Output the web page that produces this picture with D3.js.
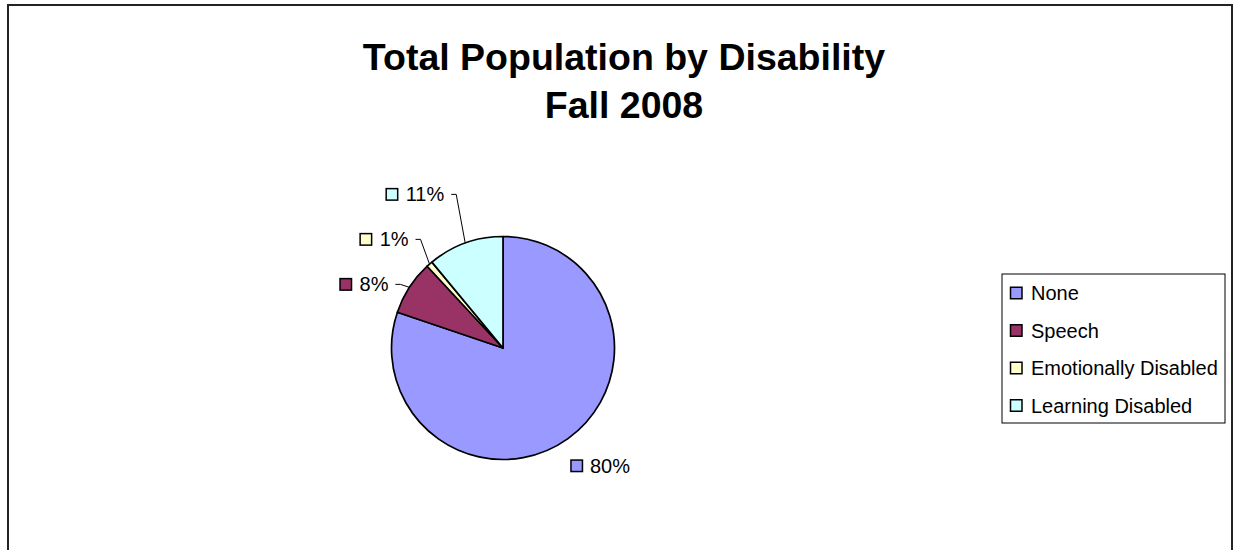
<!DOCTYPE html>
<html>
<head>
<meta charset="utf-8">
<script src="https://cdn.jsdelivr.net/npm/d3@7"></script>
<style>
    body { margin: 0; background: #fff; }
    svg { display: block; font-family: "Liberation Sans", Arial, sans-serif; }
</style>
</head>
<body>
<div id="chart"></div>
<script>
    // data
    var categories = ["None", "Speech", "Emotionally Disabled", "Learning Disabled"];
    var shares = [80.2, 7.9, 0.9, 11.0];
    var pctLabels = ["80%", "8%", "1%", "11%"];
    var colours = ["#9999FF", "#993366", "#FFFFCC", "#CCFFFF"];
    var titleLines = ["Total Population by Disability", "Fall 2008"];

    var width = 1235;
    var height = 550;

    var cx = 503, cy = 348, radius = 111.5;

    var svg = d3.select("#chart")
        .append("svg")
        .attr("width", width)
        .attr("height", height);

    // outer chart frame (bottom edge is outside the picture)
    svg.append("rect")
        .attr("x", 8)
        .attr("y", 5)
        .attr("width", 1224)
        .attr("height", 600)
        .attr("fill", "#fff")
        .attr("stroke", "#222")
        .attr("stroke-width", 2);

    var title = svg.append("text")
        .attr("text-anchor", "middle")
        .attr("font-weight", "bold")
        .attr("font-size", "37.5px")
        .attr("fill", "#000");

    title.selectAll("tspan")
        .data(titleLines)
        .enter()
        .append("tspan")
        .attr("x", 624)
        .attr("y", function(d, j) { return 70 + j * 48; })
        .text(function(d) { return d; });

    var data = categories.map(function(c, j) {
        return { key: c, value: shares[j], label: pctLabels[j], colour: colours[j] };
    });

    var pie = d3.pie()
        .sort(null)
        .value(function(d) { return d.value; });

    var arc = d3.arc()
        .innerRadius(0)
        .outerRadius(radius);

    var arcs = pie(data);

    var g = svg.append("g")
        .attr("transform", "translate(" + cx + "," + cy + ")");

    g.selectAll("path.slice")
        .data(arcs)
        .enter()
        .append("path")
        .attr("class", "slice")
        .attr("d", arc)
        .attr("fill", function(d) { return d.data.colour; })
        .attr("stroke", "#000")
        .attr("stroke-width", 1.7)
        .attr("stroke-linejoin", "round");

    function midAngle(d) {
        return d.startAngle + (d.endAngle - d.startAngle) / 2;
    }

    function edgePoint(d, r) {
        var a = midAngle(d);
        return [r * Math.sin(a), -r * Math.cos(a)];
    }

    // labels: right side sit just off the edge, left side stacked upwards with leader lines
    var labelSize = 20;
    var box = 11.5;
    var gap = 45;
    var prevY = Infinity;

    var leftArcs = arcs.filter(function(d) { return midAngle(d) > Math.PI; });
    var rightArcs = arcs.filter(function(d) { return midAngle(d) <= Math.PI; });

    rightArcs.forEach(function(d) {
        var p = edgePoint(d, radius * 1.3);
        var lg = g.append("g")
            .attr("transform", "translate(" + (p[0] - 17) + "," + p[1] + ")");
        lg.append("rect")
            .attr("x", 0.5).attr("y", -box / 2)
            .attr("width", box).attr("height", box)
            .attr("fill", d.data.colour)
            .attr("stroke", "#000").attr("stroke-width", 1.5);
        lg.append("text")
            .attr("x", box + 8)
            .attr("dy", "0.35em")
            .attr("font-size", labelSize + "px")
            .text(d.data.label);
    });

    // from the lowest left label upward
    leftArcs.sort(function(a, b) { return midAngle(a) - midAngle(b); })
        .forEach(function(d) {
            var e = edgePoint(d, radius);
            var y = Math.min(e[1] - 3, prevY - gap);
            prevY = y;
            var textEnd = e[0] - 21;

            g.append("path")
                .attr("d", "M" + (textEnd + 7) + "," + y + "H" + (textEnd + 12) + "L" + e[0] + "," + e[1])
                .attr("fill", "none")
                .attr("stroke", "#000")
                .attr("stroke-width", 1);

            var t = g.append("text")
                .attr("x", textEnd)
                .attr("y", y)
                .attr("dy", "0.35em")
                .attr("text-anchor", "end")
                .attr("font-size", labelSize + "px")
                .text(d.data.label);

            var w = t.node().getComputedTextLength();
            g.append("rect")
                .attr("x", textEnd - w - 8 - box)
                .attr("y", y - box / 2)
                .attr("width", box).attr("height", box)
                .attr("fill", d.data.colour)
                .attr("stroke", "#000").attr("stroke-width", 1.5);
        });

    // legend
    var legend = svg.append("g")
        .attr("transform", "translate(1002,274)");

    legend.append("rect")
        .attr("width", 223)
        .attr("height", 149)
        .attr("fill", "#fff")
        .attr("stroke", "#000")
        .attr("stroke-width", 1);

    var item = legend.selectAll("g.item")
        .data(data)
        .enter()
        .append("g")
        .attr("class", "item")
        .attr("transform", function(d, j) { return "translate(8," + (19 + j * 37.5) + ")"; });

    item.append("rect")
        .attr("x", 0.5).attr("y", -box / 2)
        .attr("width", box).attr("height", box)
        .attr("fill", function(d) { return d.colour; })
        .attr("stroke", "#000")
        .attr("stroke-width", 1.5);

    item.append("text")
        .attr("x", 21)
        .attr("dy", "0.35em")
        .attr("font-size", "20px")
        .text(function(d) { return d.key; });
</script>
</body>
</html>
